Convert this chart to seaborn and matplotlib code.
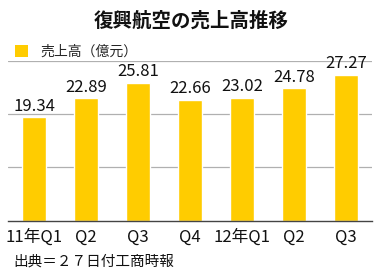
import matplotlib
matplotlib.use("Agg")
import matplotlib.pyplot as plt
import seaborn as sns
import pandas as pd
from matplotlib.patches import Patch

quarters = ["11年Q1", "11年Q2", "11年Q3", "11年Q4", "12年Q1", "12年Q2", "12年Q3"]
tick_labels = ["11年Q1", "Q2", "Q3", "Q4", "12年Q1", "Q2", "Q3"]
sales = [19.34, 22.89, 25.81, 22.66, 23.02, 24.78, 27.27]
value_labels = ["19.34", "22.89", "25.81", "22.66", "23.02", "24.78", "27.27"]

sns.set_style("white")
plt.rcParams['font.family'] = ['Noto Sans CJK JP', 'DejaVu Sans']

W, H = 382, 276
fig = plt.figure(figsize=(W / 100, H / 100), dpi=100)
ax = fig.add_axes([8 / W, 1 - 220.5 / H, 364 / W, 160 / H])

df = pd.DataFrame({"q": quarters, "v": sales})
sns.barplot(data=df, x="q", y="v", order=quarters, color="#FFCC00",
            saturation=1, width=0.48, ax=ax)

ax.set_ylim(0, 30)
ax.set_xlim(-0.5, len(quarters) - 0.5)
ax.set_yticks([10, 20, 30])
ax.yaxis.grid(True, color="#b0b0b0", linewidth=0.9)
ax.set_axisbelow(True)
ax.set_yticklabels([])
ax.tick_params(axis="y", length=0)
ax.set_xticks(range(len(quarters)))
ax.set_xticklabels(tick_labels, fontsize=12, color="#111111")
ax.tick_params(axis="x", length=0, pad=6)
ax.set_xlabel("")
ax.set_ylabel("")
for s in ["top", "left", "right"]:
    ax.spines[s].set_visible(False)
ax.spines["bottom"].set_color("#444444")
ax.spines["bottom"].set_linewidth(1.0)

ax.bar_label(ax.containers[0], labels=value_labels, padding=2, fontsize=12,
             color="#111111")

fig.text(0.5, 1 - 21 / H, "復興航空の売上高推移", ha="center", va="center",
         fontsize=14, fontweight="bold", color="#111111")

fig.legend(handles=[Patch(facecolor="#FFCC00", edgecolor="none")],
           labels=["売上高（億元）"], loc="center left",
           bbox_to_anchor=(15 / W, 1 - 52 / H), frameon=False, fontsize=10,
           handlelength=0.95, handleheight=0.95, handletextpad=0.85,
           borderpad=0, borderaxespad=0)

fig.text(13 / W, 1 - 262 / H, "出典＝２７日付工商時報", ha="left", va="center",
         fontsize=10.5, color="#111111")

fig.savefig("out.png", dpi=100)
